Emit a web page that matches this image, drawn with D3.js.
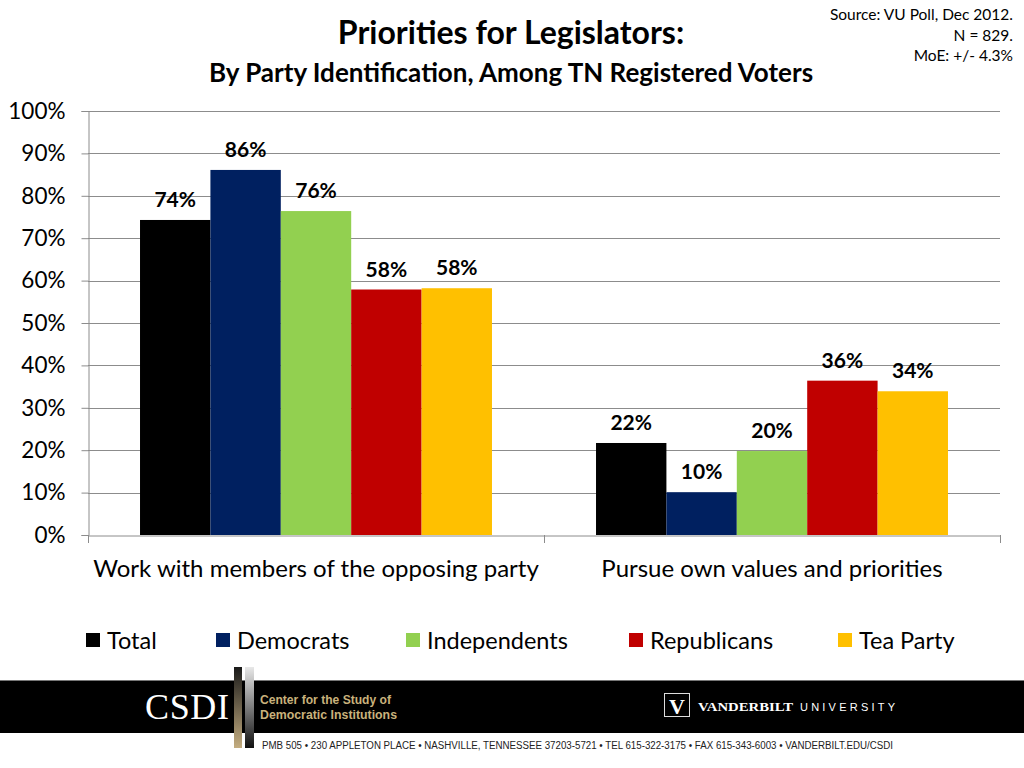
<!DOCTYPE html>
<html><head><meta charset="utf-8">
<script src="https://cdn.jsdelivr.net/npm/d3@7"></script>
<style>
body{margin:0;background:#fff;}
svg{display:block;font-family:Lato,"Open Sans",sans-serif;}
</style></head>
<body>
<svg id="c" width="1024" height="768"></svg>
<script>
const categories = ["Work with members of the opposing party", "Pursue own values and priorities"];
const seriesNames = ["Total", "Democrats", "Independents", "Republicans", "Tea Party"];
const seriesColors = ["#000000", "#002060", "#92d050", "#c00000", "#ffc000"];
const total = [74.3, 21.7];
const democrats = [86.1, 10.1];
const independents = [76.4, 19.8];
const republicans = [57.9, 36.4];
const teaParty = [58.2, 33.9];
const yTicks = [0, 10, 20, 30, 40, 50, 60, 70, 80, 90, 100];
const sourceLines = ["Source: VU Poll, Dec 2012.", "N = 829.", "MoE: +/- 4.3%"];

const values = [total, democrats, independents, republicans, teaParty];
const svg = d3.select("#c");

const pLeft = 88, pRight = 1000, pTop = 111, pBottom = 535;
const y = d3.scaleLinear().domain([0, 100]).range([pBottom, pTop]);
const x0 = d3.scaleBand().domain(categories).range([pLeft, pRight]).padding(0);
const x1 = d3.scaleBand().domain(seriesNames).range([0, x0.bandwidth()]).paddingInner(0).paddingOuter(0.739);

// gridlines
svg.append("g").selectAll("line").data(yTicks.filter(d => d > 0)).join("line")
  .attr("x1", pLeft).attr("x2", pRight)
  .attr("y1", d => Math.round(y(d)) + 0.5).attr("y2", d => Math.round(y(d)) + 0.5)
  .attr("stroke", "#8c8c8c").attr("stroke-width", 1);

// y axis
const yAxis = d3.axisLeft(y).tickValues(yTicks).tickFormat(d => d + "%").tickSize(7).tickPadding(16);
const gy = svg.append("g").attr("transform", `translate(${pLeft + 0.5},0)`).call(yAxis);
gy.select(".domain").attr("stroke", "#8c8c8c");
gy.selectAll(".tick line").attr("stroke", "#8c8c8c");
gy.selectAll(".tick text").attr("font-size", 22.5).attr("fill", "#000").attr("font-family", "Lato");

// bars
const groups = svg.append("g").selectAll("g").data(categories).join("g")
  .attr("transform", d => `translate(${x0(d)},0)`);
groups.each(function(cat, ci) {
  const g = d3.select(this);
  const data = seriesNames.map((s, si) => ({ s, si, v: values[si][ci] }));
  g.selectAll("rect").data(data).join("rect")
    .attr("x", d => x1(d.s)).attr("width", x1.bandwidth())
    .attr("y", d => y(d.v)).attr("height", d => y(0) - y(d.v))
    .attr("fill", d => seriesColors[d.si]);
  g.selectAll("text").data(data).join("text")
    .attr("x", d => x1(d.s) + x1.bandwidth() / 2)
    .attr("y", d => y(d.v) - 13)
    .attr("text-anchor", "middle").attr("font-size", 21).attr("font-weight", "bold")
    .attr("fill", "#000").text(d => Math.round(d.v) + "%");
});

// x axis
const xAxis = d3.axisBottom(x0).tickSize(0).tickPadding(24);
const gx = svg.append("g").attr("transform", `translate(0,${pBottom + 0.5})`).call(xAxis);
gx.select(".domain").attr("stroke", "#8c8c8c");
gx.selectAll(".tick text").attr("font-size", 24).attr("fill", "#000").attr("font-family", "Lato");
svg.append("g").selectAll("line").data([pLeft, x0(categories[1]), pRight]).join("line")
  .attr("x1", d => Math.round(d) + 0.5).attr("x2", d => Math.round(d) + 0.5)
  .attr("y1", pBottom).attr("y2", pBottom + 8).attr("stroke", "#8c8c8c");

// title
svg.append("text").attr("x", 511).attr("y", 44).attr("text-anchor", "middle")
  .attr("font-size", 32).attr("font-weight", "bold").text("Priorities for Legislators:");
svg.append("text").attr("x", 511).attr("y", 82).attr("text-anchor", "middle")
  .attr("font-size", 26).attr("font-weight", "bold").text("By Party Identification, Among TN Registered Voters");

// source
svg.append("g").selectAll("text").data(sourceLines).join("text")
  .attr("x", 1013).attr("y", (d, i) => 20 + i * 20.5).attr("text-anchor", "end")
  .attr("font-size", 15.5).attr("fill", "#000").text(d => d);

// legend
const legendX = [86, 216, 406, 629, 838];
const lg = svg.append("g").selectAll("g").data(seriesNames).join("g")
  .attr("transform", (d, i) => `translate(${legendX[i]},633)`);
lg.append("rect").attr("width", 14).attr("height", 14).attr("fill", (d, i) => seriesColors[i]);
lg.append("text").attr("x", 21).attr("y", 15.5).attr("font-size", 23.5).attr("fill", "#000").text(d => d);

// footer
const f = svg.append("g");
f.append("rect").attr("x", 0).attr("y", 681).attr("width", 1024).attr("height", 52).attr("fill", "#000");
f.append("line").attr("x1", 0).attr("x2", 1024).attr("y1", 680.5).attr("y2", 680.5).attr("stroke", "#777");
const defs = svg.append("defs");
const g1 = defs.append("linearGradient").attr("id", "gA").attr("x1", 0).attr("x2", 0).attr("y1", 0).attr("y2", 1);
g1.append("stop").attr("offset", "0%").attr("stop-color", "#1a1a1a");
g1.append("stop").attr("offset", "100%").attr("stop-color", "#c4ad80");
const g2 = defs.append("linearGradient").attr("id", "gB").attr("x1", 0).attr("x2", 0).attr("y1", 0).attr("y2", 1);
g2.append("stop").attr("offset", "0%").attr("stop-color", "#e8e8e8");
g2.append("stop").attr("offset", "100%").attr("stop-color", "#111");
f.append("rect").attr("x", 234).attr("y", 667).attr("width", 8).attr("height", 81).attr("fill", "url(#gA)");
f.append("rect").attr("x", 245).attr("y", 667).attr("width", 9).attr("height", 81).attr("fill", "url(#gB)");
f.append("text").attr("x", 145).attr("y", 719).attr("font-family", "Liberation Serif, serif")
  .attr("font-size", 36).attr("fill", "#fff").attr("textLength", 84).text("CSDI");
f.append("text").attr("x", 260).attr("y", 704).attr("font-family", "Liberation Sans Narrow, Liberation Sans, sans-serif")
  .attr("font-weight", "bold").attr("font-size", 13.5).attr("fill", "#c9b27c").attr("textLength", 131).attr("lengthAdjust", "spacingAndGlyphs").text("Center for the Study of");
f.append("text").attr("x", 260).attr("y", 719).attr("font-family", "Liberation Sans Narrow, Liberation Sans, sans-serif")
  .attr("font-weight", "bold").attr("font-size", 13.5).attr("fill", "#c9b27c").attr("textLength", 137).attr("lengthAdjust", "spacingAndGlyphs").text("Democratic Institutions");
f.append("text").attr("x", 262).attr("y", 749).attr("font-family", "Liberation Sans Narrow, Liberation Sans, sans-serif")
  .attr("font-size", 10).attr("fill", "#222").attr("textLength", 631).attr("lengthAdjust", "spacingAndGlyphs")
  .text("PMB 505 • 230 APPLETON PLACE • NASHVILLE, TENNESSEE 37203-5721 • TEL 615-322-3175 • FAX 615-343-6003 • VANDERBILT.EDU/CSDI");
f.append("rect").attr("x", 664.5).attr("y", 693.5).attr("width", 25).attr("height", 23).attr("fill", "none").attr("stroke", "#ddd");
f.append("text").attr("x", 677).attr("y", 714).attr("text-anchor", "middle").attr("font-family", "Liberation Serif, serif")
  .attr("font-weight", "bold").attr("font-size", 22).attr("fill", "#fff").text("V");
f.append("text").attr("x", 698).attr("y", 711).attr("font-family", "Liberation Serif, serif")
  .attr("font-weight", "bold").attr("font-size", 12).attr("fill", "#fff").attr("textLength", 95).attr("lengthAdjust", "spacingAndGlyphs").text("VANDERBILT");
f.append("text").attr("x", 800).attr("y", 711).attr("font-family", "Liberation Sans, sans-serif")
  .attr("font-size", 11).attr("fill", "#fff").attr("textLength", 95).text("UNIVERSITY");
</script>
</body></html>
